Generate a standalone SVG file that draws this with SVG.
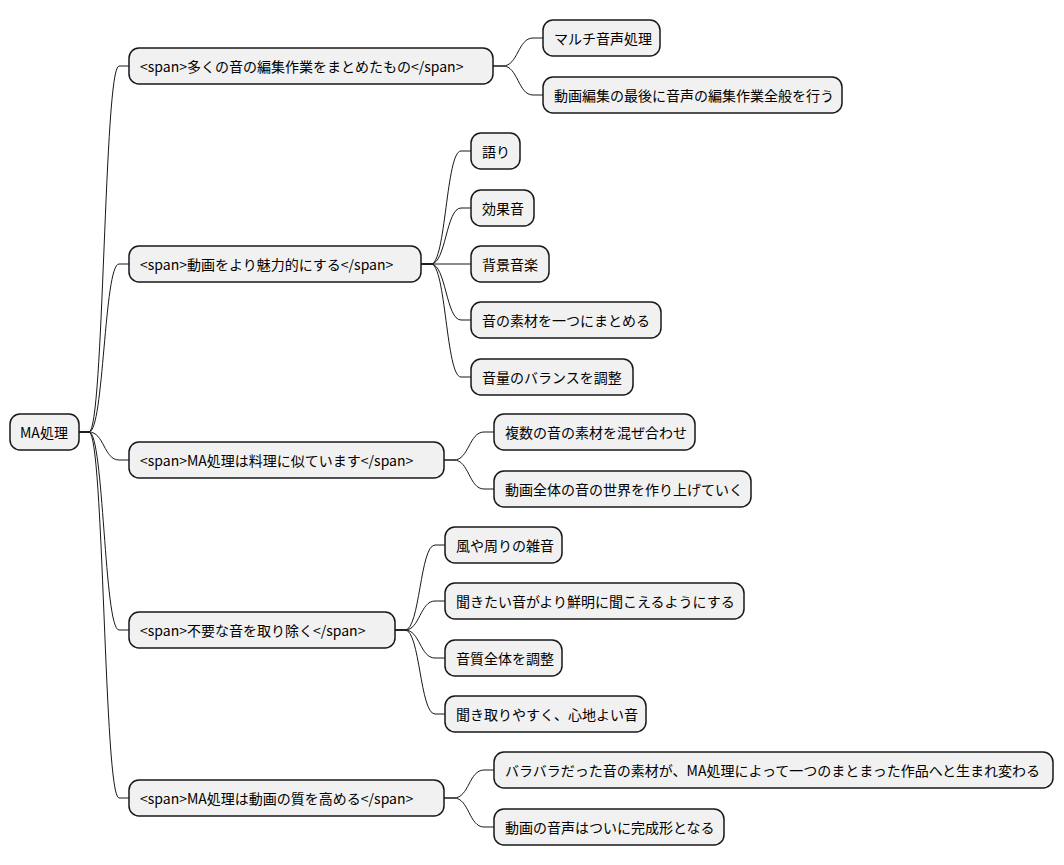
<svg xmlns="http://www.w3.org/2000/svg" width="1064" height="865" viewBox="0 0 1064 865">
<style>
.n rect{fill:#f1f1f1;stroke:#181818;stroke-width:1.5}
.n text{font-family:"Noto Sans CJK JP","DejaVu Sans",sans-serif;font-size:14px;fill:#000;dominant-baseline:central}
#c path{fill:none;stroke:#181818;stroke-width:1}
</style>
<rect width="1064" height="865" fill="#fff"/>
<g id="c">
<path d="M79 432 L89 432 C104 432 104 66 119 66 L129 66"/>
<path d="M79 432 L89 432 C104 432 104 264 119 264 L129 264"/>
<path d="M79 432 L89 432 C104 432 104 460 119 460 L129 460"/>
<path d="M79 432 L89 432 C104 432 104 630 119 630 L129 630"/>
<path d="M79 432 L89 432 C104 432 104 798 119 798 L129 798"/>
<path d="M493 66 L503 66 C518 66 518 38 533 38 L543 38"/>
<path d="M493 66 L503 66 C518 66 518 95 533 95 L543 95"/>
<path d="M421 264 L431 264 C446 264 446 151 461 151 L471 151"/>
<path d="M421 264 L431 264 C446 264 446 208 461 208 L471 208"/>
<path d="M421 264 L471 264"/>
<path d="M421 264 L431 264 C446 264 446 320 461 320 L471 320"/>
<path d="M421 264 L431 264 C446 264 446 377 461 377 L471 377"/>
<path d="M444 460 L454 460 C469 460 469 432 484 432 L494 432"/>
<path d="M444 460 L454 460 C469 460 469 489 484 489 L494 489"/>
<path d="M395 630 L405 630 C420 630 420 545 435 545 L445 545"/>
<path d="M395 630 L405 630 C420 630 420 601 435 601 L445 601"/>
<path d="M395 630 L405 630 C420 630 420 658 435 658 L445 658"/>
<path d="M395 630 L405 630 C420 630 420 714 435 714 L445 714"/>
<path d="M444 798 L454 798 C469 798 469 770 484 770 L494 770"/>
<path d="M444 798 L454 798 C469 798 469 827 484 827 L494 827"/>
</g>
<g id="root" class="n"><rect x="10" y="414" width="69" height="36" rx="10"/><text x="20" y="432">MA処理</text></g>
<g id="n1" class="n"><rect x="129" y="48" width="364" height="36" rx="10"/><text x="140" y="66">&lt;span&gt;多くの音の編集作業をまとめたもの&lt;/span&gt;</text></g>
<g id="n2" class="n"><rect x="129" y="246" width="292" height="36" rx="10"/><text x="140" y="264">&lt;span&gt;動画をより魅力的にする&lt;/span&gt;</text></g>
<g id="n3" class="n"><rect x="129" y="442" width="315" height="36" rx="10"/><text x="140" y="460">&lt;span&gt;MA処理は料理に似ています&lt;/span&gt;</text></g>
<g id="n4" class="n"><rect x="129" y="612" width="266" height="36" rx="10"/><text x="140" y="630">&lt;span&gt;不要な音を取り除く&lt;/span&gt;</text></g>
<g id="n5" class="n"><rect x="129" y="780" width="315" height="36" rx="10"/><text x="140" y="798">&lt;span&gt;MA処理は動画の質を高める&lt;/span&gt;</text></g>
<g id="n1a" class="n"><rect x="543" y="20" width="117" height="36" rx="10"/><text x="554" y="38">マルチ音声処理</text></g>
<g id="n1b" class="n"><rect x="543" y="77" width="299" height="36" rx="10"/><text x="554" y="95">動画編集の最後に音声の編集作業全般を行う</text></g>
<g id="n2a" class="n"><rect x="471" y="133" width="49" height="36" rx="10"/><text x="482" y="151">語り</text></g>
<g id="n2b" class="n"><rect x="471" y="190" width="63" height="36" rx="10"/><text x="482" y="208">効果音</text></g>
<g id="n2c" class="n"><rect x="471" y="246" width="78" height="36" rx="10"/><text x="482" y="264">背景音楽</text></g>
<g id="n2d" class="n"><rect x="471" y="302" width="190" height="36" rx="10"/><text x="482" y="320">音の素材を一つにまとめる</text></g>
<g id="n2e" class="n"><rect x="471" y="359" width="162" height="36" rx="10"/><text x="482" y="377">音量のバランスを調整</text></g>
<g id="n3a" class="n"><rect x="494" y="414" width="201" height="36" rx="10"/><text x="505" y="432">複数の音の素材を混ぜ合わせ</text></g>
<g id="n3b" class="n"><rect x="494" y="471" width="257" height="36" rx="10"/><text x="505" y="489">動画全体の音の世界を作り上げていく</text></g>
<g id="n4a" class="n"><rect x="445" y="527" width="117" height="36" rx="10"/><text x="456" y="545">風や周りの雑音</text></g>
<g id="n4b" class="n"><rect x="445" y="583" width="299" height="36" rx="10"/><text x="456" y="601">聞きたい音がより鮮明に聞こえるようにする</text></g>
<g id="n4c" class="n"><rect x="445" y="640" width="117" height="36" rx="10"/><text x="456" y="658">音質全体を調整</text></g>
<g id="n4d" class="n"><rect x="445" y="696" width="201" height="36" rx="10"/><text x="456" y="714">聞き取りやすく、心地よい音</text></g>
<g id="n5a" class="n"><rect x="494" y="752" width="559" height="36" rx="10"/><text x="505" y="770">バラバラだった音の素材が、MA処理によって一つのまとまった作品へと生まれ変わる</text></g>
<g id="n5b" class="n"><rect x="494" y="809" width="230" height="36" rx="10"/><text x="505" y="827">動画の音声はついに完成形となる</text></g>
</svg>
